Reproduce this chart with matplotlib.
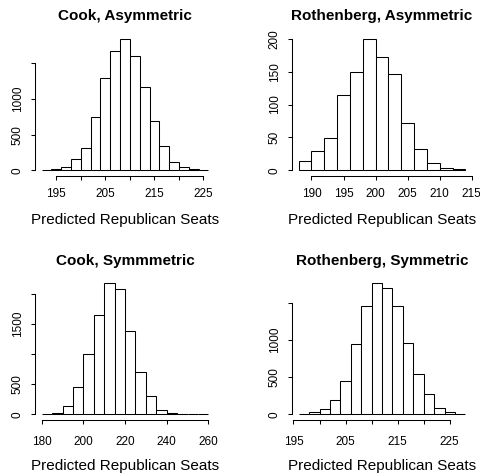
import numpy as np
import matplotlib
matplotlib.use("Agg")
import matplotlib.pyplot as plt

plt.rcParams["font.family"] = ["Liberation Sans", "DejaVu Sans"]

# bin edges and counts
cook_asym_edges = list(range(192, 227, 2))
cook_asym_counts = [10, 20, 40, 155, 318, 743, 1289, 1677, 1845, 1598, 1168, 691, 341, 112, 42, 19, 9]

roth_asym_edges = list(range(188, 215, 2))
roth_asym_counts = [14, 30, 49, 115, 150, 200, 173, 147, 72, 33, 11, 4, 2]

cook_sym_edges = list(range(180, 261, 5))
cook_sym_counts = [11, 28, 138, 459, 994, 1652, 2171, 2077, 1381, 707, 298, 66, 17, 5, 2, 1]

roth_sym_edges = list(range(196, 229, 2))
roth_sym_counts = [9, 27, 76, 193, 452, 940, 1455, 1760, 1702, 1455, 963, 546, 273, 85, 27, 9]

titles = ["Cook, Asymmetric", "Rothenberg, Asymmetric", "Cook, Symmmetric", "Rothenberg, Symmetric"]
xlab = "Predicted Republican Seats"

# ticks (labels left blank where R dropped them for overlap)
x_ticks = [
    ([195, 200, 205, 210, 215, 220, 225], ["195", "", "205", "", "215", "", "225"]),
    ([190, 195, 200, 205, 210, 215], ["190", "195", "200", "205", "210", "215"]),
    ([180, 200, 220, 240, 260], ["180", "200", "220", "240", "260"]),
    ([195, 200, 205, 210, 215, 220, 225], ["195", "", "205", "", "215", "", "225"]),
]
y_ticks = [
    ([0, 500, 1000, 1500], ["0", "500", "1000", ""]),
    ([0, 50, 100, 150, 200], ["0", "50", "100", "150", "200"]),
    ([0, 500, 1000, 1500, 2000], ["0", "500", "", "1500", ""]),
    ([0, 500, 1000, 1500], ["0", "500", "1000", ""]),
]

panels = [
    (cook_asym_edges, cook_asym_counts),
    (roth_asym_edges, roth_asym_counts),
    (cook_sym_edges, cook_sym_counts),
    (roth_sym_edges, roth_sym_counts),
]

W, H = 480, 473
rects = [
    (35 / W, 1 - 175.6 / H, 180 / W, 142.1 / H),
    (292 / W, 1 - 175.6 / H, 180 / W, 142.1 / H),
    (35 / W, 1 - 419.5 / H, 180 / W, 141.3 / H),
    (292 / W, 1 - 419.5 / H, 180 / W, 141.3 / H),
]
# top row / bottom row label spacing
x_pads = [5.6, 5.6, 9.0, 9.0]
x_labelpads = [9.5, 9.5, 7.5, 7.5]

fig = plt.figure(figsize=(4.8, 4.73), dpi=100)

for i, (edges, counts) in enumerate(panels):
    ax = fig.add_axes(rects[i])
    edges = np.array(edges)
    ax.bar(edges[:-1], counts, width=np.diff(edges), align="edge",
           color="white", edgecolor="black", linewidth=0.75)

    xr = edges[-1] - edges[0]
    ax.set_xlim(edges[0] - 0.04 * xr, edges[-1] + 0.04 * xr)
    ym = max(counts)
    ax.set_ylim(-0.04 * ym, ym * 1.04)

    for s in ["top", "right"]:
        ax.spines[s].set_visible(False)
    for s in ["bottom", "left"]:
        ax.spines[s].set_linewidth(0.75)

    xt, xl = x_ticks[i]
    yt, yl = y_ticks[i]
    ax.set_xticks(xt)
    ax.set_xticklabels(xl)
    ax.set_yticks(yt)
    ax.set_yticklabels(yl, rotation=90, va="center")
    ax.spines["bottom"].set_bounds(xt[0], xt[-1])
    ax.spines["left"].set_bounds(yt[0], yt[-1])
    ax.tick_params(direction="out", length=3.1, width=0.75, labelsize=8.5)
    ax.tick_params(axis="x", pad=x_pads[i])
    ax.tick_params(axis="y", pad=5)

    ax.set_title(titles[i], fontsize=11, fontweight="bold", pad=9.5)
    ax.set_xlabel(xlab, fontsize=11, labelpad=x_labelpads[i])

fig.savefig("out.png", dpi=100)
